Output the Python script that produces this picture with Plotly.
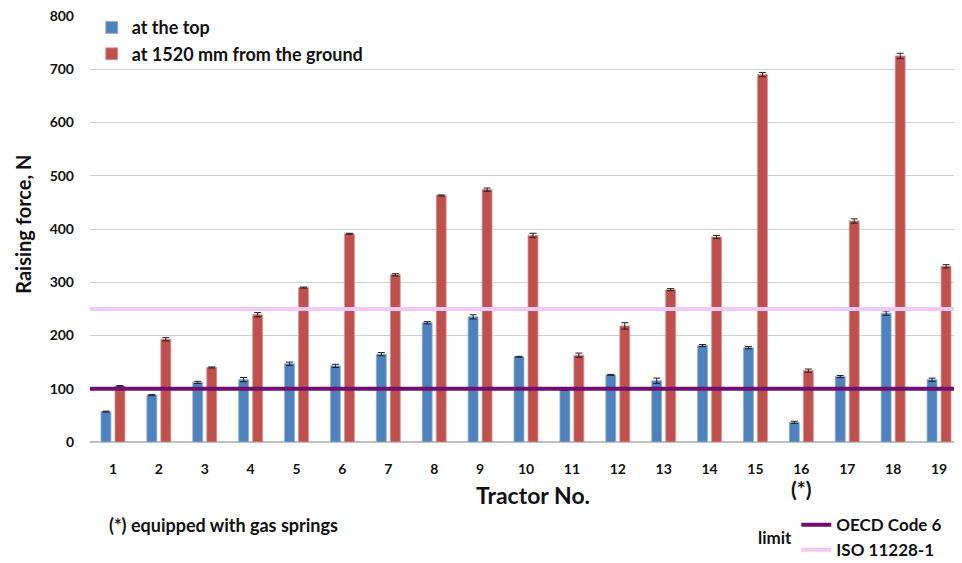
import plotly.graph_objects as go

tractors = list(range(1, 20))
tick_labels = [str(t) for t in tractors]
top_force = [57, 88, 112, 117, 147, 143, 165, 224, 235, 160, 98, 126, 115, 181, 177, 37, 123, 242, 117]
top_err = [1, 1, 2, 4, 3, 3, 3, 2, 4, 1, 1, 1, 5, 2, 2, 2, 2, 4, 3]
ground_force = [105, 193, 140, 239, 290, 391, 314, 463, 474, 388, 163, 218, 286, 385, 690, 134, 415, 725, 330]
ground_err = [1, 3, 1, 4, 1, 1, 2, 1, 3, 4, 4, 6, 2, 3, 4, 3, 4, 5, 3]
oecd_limit = 100
iso_limit = 250

FONT = "Lato"
TXT = "#111111"
x_lo, x_hi = tractors[0] - 0.5, tractors[-1] + 0.5

fig = go.Figure()
fig.add_trace(go.Bar(
    x=tractors, y=top_force, name="at the top",
    marker=dict(color="#4F81BD", line=dict(color="#8FB0D8", width=0.8)),
    error_y=dict(type="data", array=top_err, color="#222222", thickness=1, width=3.5),
    legend="legend",
))
fig.add_trace(go.Bar(
    x=tractors, y=ground_force, name="at 1520 mm from the ground",
    marker=dict(color="#C0504D", line=dict(color="#D99694", width=0.8)),
    error_y=dict(type="data", array=ground_err, color="#222222", thickness=1, width=3.5),
    legend="legend",
))
fig.add_trace(go.Scatter(
    x=[x_lo, x_hi], y=[oecd_limit, oecd_limit], mode="lines", name="OECD Code 6",
    line=dict(color="#6F0F6F", width=4), legend="legend2",
))
fig.add_trace(go.Scatter(
    x=[x_lo, x_hi], y=[iso_limit, iso_limit], mode="lines", name="ISO 11228-1",
    line=dict(color="#F4C8F4", width=4), legend="legend2",
))

fig.update_layout(
    width=954, height=575,
    margin=dict(l=82, r=0, t=8, b=141),
    paper_bgcolor="white", plot_bgcolor="white",
    font=dict(family=FONT, color=TXT),
    barmode="group", bargap=0.39, bargroupgap=0.29,
    showlegend=True,
    legend=dict(
        x=0.002, y=1.016, xanchor="left", yanchor="top",
        bgcolor="rgba(255,255,255,0)",
        font=dict(family=FONT, size=18, color=TXT, weight="bold"),
        itemwidth=30,
    ),
    legend2=dict(
        x=0.81, y=-0.153, xanchor="left", yanchor="top",
        bgcolor="rgba(255,255,255,0)",
        font=dict(family=FONT, size=17, color=TXT, weight="bold"),
        itemwidth=30,
    ),
    xaxis=dict(
        range=[x_lo, x_hi], tickmode="array", tickvals=tractors, ticktext=tick_labels,
        showgrid=False, showline=True, linecolor="#BFBFBF", linewidth=1,
        ticks="", ticklabelstandoff=14,
        tickfont=dict(family=FONT, size=14, color=TXT, weight="bold"),
        zeroline=False,
    ),
    yaxis=dict(
        range=[0, 800], tickmode="array", tickvals=[0, 100, 200, 300, 400, 500, 600, 700, 800],
        showgrid=True, gridcolor="#D0D0D0", gridwidth=1,
        zeroline=True, zerolinecolor="#BFBFBF",
        ticks="", ticklabelstandoff=15, ticklabeloverflow="allow", automargin=False,
        tickfont=dict(family=FONT, size=14, color=TXT, weight="bold"),
    ),
    annotations=[
        dict(text="Raising force, N", textangle=-90, xref="paper", yref="paper",
             x=0, y=0.51, xshift=-67, xanchor="center", yanchor="middle", showarrow=False,
             font=dict(family=FONT, size=20, color=TXT, weight="bold")),
        dict(text="Tractor No.", xref="paper", yref="paper", x=0.508, y=0, yshift=-53,
             xanchor="center", yanchor="middle", showarrow=False,
             font=dict(family=FONT, size=23, color=TXT, weight="bold")),
        dict(text="(*)", xref="x", yref="paper", x=16, y=0, yshift=-46,
             xanchor="center", yanchor="middle", showarrow=False,
             font=dict(family=FONT, size=21, color=TXT, weight="bold")),
        dict(text="(*) equipped with gas springs", xref="paper", yref="paper", x=0.0195, y=0,
             yshift=-83, xanchor="left", yanchor="middle", showarrow=False,
             font=dict(family=FONT, size=18, color=TXT, weight="bold")),
        dict(text="limit", xref="paper", yref="paper", x=0.7856, y=0, yshift=-95,
             xanchor="center", yanchor="middle", showarrow=False,
             font=dict(family=FONT, size=17, color=TXT, weight="bold")),
    ],
)

fig.write_html("out.html")
